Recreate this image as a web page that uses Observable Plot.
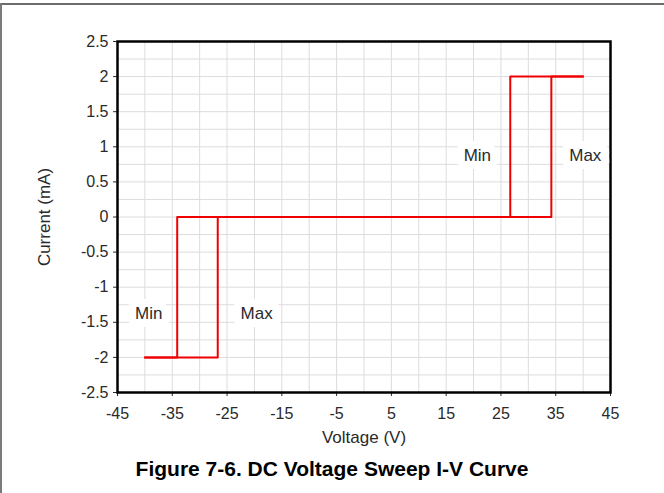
<!DOCTYPE html>
<html>
<head>
<meta charset="utf-8">
<script src="https://cdn.jsdelivr.net/npm/d3@7"></script>
<script src="https://cdn.jsdelivr.net/npm/@observablehq/plot@0.6"></script>
<style>
  html, body { margin: 0; padding: 0; background: #fff; }
  body { width: 664px; height: 493px; position: relative; overflow: hidden; font-family: "Liberation Sans", Arial, sans-serif; }
  #topline { position: absolute; left: 0; top: 3px; width: 664px; height: 2px; background: #6b6b6b; }
  #leftline { position: absolute; left: 0; top: 3px; width: 2px; height: 490px; background: #7a7a7a; }
  #chart { position: absolute; left: 0; top: 0; }
  #caption { position: absolute; left: 0; top: 458px; width: 664px; text-align: center; font-weight: bold; font-size: 21px; line-height: 21px; color: #000; }
</style>
</head>
<body>
<div id="chart"></div>
<div id="topline"></div>
<div id="leftline"></div>
<div id="caption">Figure 7-6. DC Voltage Sweep I-V Curve</div>
<script>
// Tick labels
const xTicks = [-45, -35, -25, -15, -5, 5, 15, 25, 35, 45];
const yTicks = [-2.5, -2, -1.5, -1, -0.5, 0, 0.5, 1, 1.5, 2, 2.5];

// Sweep threshold curves (Min and Max), Voltage (V) vs Current (mA)
const minVoltage = [-40, -34.1, -34.1, 34.2, 34.2, 40];
const minCurrent = [-2, -2, 0, 0, 2, 2];
const maxVoltage = [-40, -26.7, -26.7, 26.7, 26.7, 40];
const maxCurrent = [-2, -2, 0, 0, 2, 2];

// Annotations
const labelText = ["Min", "Max", "Min", "Max"];
const labelVoltage = [-39.3, -19.6, 20.7, 40.4];
const labelCurrent = [-1.38, -1.38, 0.87, 0.87];

const curves = [
  ...minVoltage.map((v, i) => ({series: "min", v, c: minCurrent[i]})),
  ...maxVoltage.map((v, i) => ({series: "max", v, c: maxCurrent[i]}))
];
const labels = labelText.map((t, i) => ({t, v: labelVoltage[i], c: labelCurrent[i]}));

const xGrid = d3.range(-45, 45.001, 5);
const yGrid = d3.range(-2.5, 2.5001, 0.25);

const chart = Plot.plot({
  width: 664,
  height: 450,
  marginLeft: 117,
  marginRight: 54,
  marginTop: 41,
  marginBottom: 58,
  style: {fontFamily: "'Liberation Sans', Arial, sans-serif", fontSize: "16px", color: "#2a2a2a", background: "#fff"},
  x: {domain: [-45, 45]},
  y: {domain: [-2.5, 2.5]},
  marks: [
    Plot.ruleX(xGrid, {stroke: "#dcdcdc", strokeWidth: 1}),
    Plot.ruleY(yGrid, {stroke: "#dcdcdc", strokeWidth: 1}),
    Plot.axisX({ticks: xTicks, tickFormat: d => `${d}`, tickSize: 4, tickPadding: 11, fontSize: 16, fill: "#2a2a2a", label: null}),
    Plot.axisY({ticks: yTicks, tickFormat: d => `${d}`, tickSize: 4, tickPadding: 5, fontSize: 16, fill: "#2a2a2a", label: null}),
    Plot.line(curves, {x: "v", y: "c", z: "series", stroke: "#f00000", strokeWidth: 2, curve: "linear"}),
    Plot.frame({stroke: "#000", strokeWidth: 2.5}),
    Plot.text(labels, {x: "v", y: "c", text: "t", fontSize: 17, fill: "#2a2a2a", stroke: "#fff", strokeWidth: 16, strokeLinejoin: "round", paintOrder: "stroke"}),
    Plot.text(["Current (mA)"], {frameAnchor: "left", textAnchor: "middle", lineAnchor: "middle", dx: -73, rotate: -90, fontSize: 17, fill: "#2a2a2a"}),
    Plot.text(["Voltage (V)"], {frameAnchor: "bottom", textAnchor: "middle", lineAnchor: "middle", dy: 45, fontSize: 17, fill: "#2a2a2a"})
  ]
});
document.getElementById("chart").appendChild(chart);
</script>
</body>
</html>
